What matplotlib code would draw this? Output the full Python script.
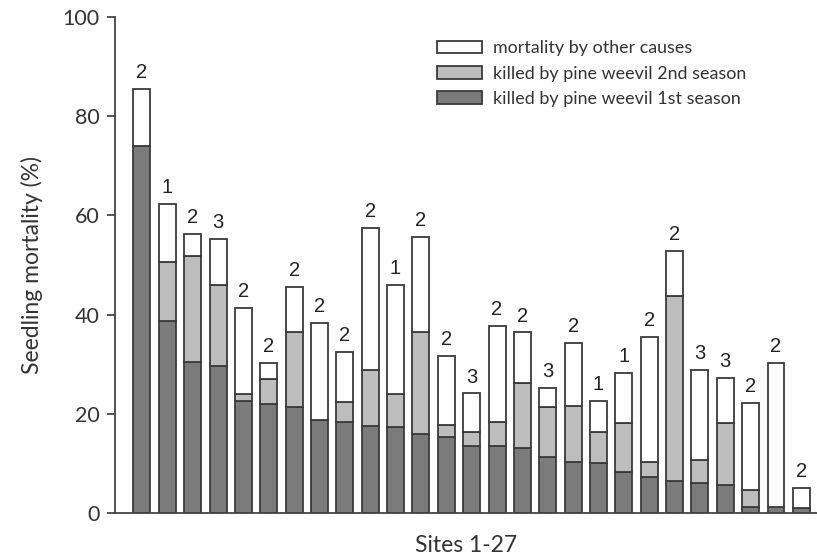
import matplotlib
matplotlib.use("Agg")
import matplotlib.pyplot as plt
import numpy as np

sites = list(range(1, 28))
first_season = [74.0, 38.8, 30.5, 29.6, 22.6, 22.0, 21.3, 18.7, 18.4, 17.6, 17.3, 16.0, 15.3, 13.6,
                13.5, 13.1, 11.2, 10.2, 10.0, 8.2, 7.3, 6.5, 6.0, 5.7, 1.3, 1.2, 1.1]
first_plus_second = [74.0, 50.7, 51.8, 46.0, 24.0, 27.0, 36.4, 18.7, 22.3, 28.8, 24.0, 36.5, 17.7, 16.4,
                     18.3, 26.3, 21.3, 21.6, 16.3, 18.2, 10.3, 43.7, 10.6, 18.2, 4.6, 1.2, 1.1]
totals = [85.5, 62.3, 56.3, 55.2, 41.3, 30.2, 45.5, 38.3, 32.5, 57.5, 46.0, 55.6, 31.6, 24.1,
          37.8, 36.4, 25.3, 34.3, 22.5, 28.2, 35.4, 52.8, 28.8, 27.3, 22.1, 30.2, 5.0]
bar_labels = ["2", "1", "2", "3", "2", "2", "2", "2", "2", "2", "1", "2", "2", "3",
              "2", "2", "3", "2", "1", "1", "2", "2", "3", "3", "2", "2", "2"]

second_season = [b - a for a, b in zip(first_season, first_plus_second)]
other = [t - b for b, t in zip(first_plus_second, totals)]

fig = plt.figure(figsize=(8.17, 5.56), dpi=100)
ax = fig.add_axes([0.1408, 0.0773, 0.859, 0.8921])

x = np.arange(len(sites))
w = 0.67
edge = "#3a3a3a"
lw = 1.3
c1 = "#7b7b7b"
c2 = "#bdbdbd"
c3 = "#ffffff"

b1 = ax.bar(x, first_season, w, color=c1, edgecolor=edge, linewidth=lw,
            label="killed by pine weevil 1st season")
b2 = ax.bar(x, second_season, w, bottom=first_season, color=c2, edgecolor=edge, linewidth=lw,
            label="killed by pine weevil 2nd season")
b3 = ax.bar(x, other, w, bottom=first_plus_second, color=c3, edgecolor=edge, linewidth=lw,
            label="mortality by other causes")

for xi, t, lab in zip(x, totals, bar_labels):
    ax.text(xi, t + 1.4, lab, ha="center", va="bottom", fontsize=14.5,
            family="Liberation Sans", color="#222222")

ax.set_xlim(-1.06, len(sites) - 1 + 0.61)
ax.set_ylim(0, 100)
ax.set_yticks([0, 20, 40, 60, 80, 100])
ax.set_xticks([])
for s in ["top", "right"]:
    ax.spines[s].set_visible(False)
for s in ["left", "bottom"]:
    ax.spines[s].set_color("#444444")
    ax.spines[s].set_linewidth(1.3)
ax.tick_params(axis="y", direction="out", length=6, width=1.3, color="#444444",
               labelsize=15.5, labelcolor="#333333", pad=5)
for lab in ax.get_yticklabels():
    lab.set_family("Lato")

ax.set_ylabel("Seedling mortality (%)", fontsize=16.5, family="Lato", color="#333333", labelpad=14)
ax.set_xlabel("Sites 1-27", fontsize=16.5, family="Lato", color="#333333", labelpad=16)

handles = [b3, b2, b1]
leg = ax.legend(handles, [h.get_label() for h in handles], loc="upper left",
                bbox_to_anchor=(0.459, 0.953), frameon=False, borderaxespad=0, borderpad=0,
                prop={"family": "Lato", "size": 12.9}, handlelength=2.5, handleheight=0.7,
                labelspacing=0.52, handletextpad=0.6)
for t in leg.get_texts():
    t.set_color("#333333")

fig.savefig("out.png", dpi=100)
